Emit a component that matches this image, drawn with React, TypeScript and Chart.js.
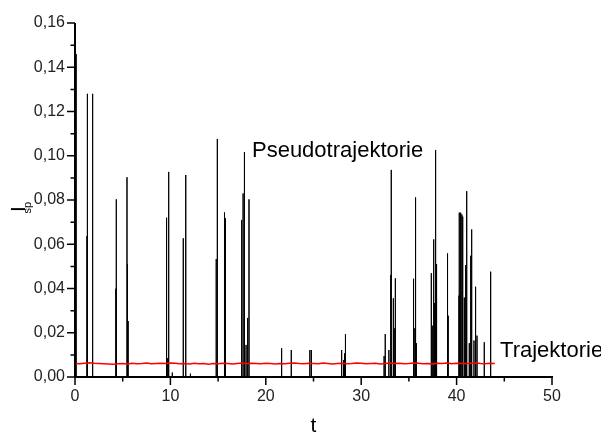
import React, { useEffect, useRef } from 'react';
import { Chart, registerables } from 'chart.js';

Chart.register(...registerables);

// Pseudotrajektorie: spike times (t) and peak heights (I_sp)
const spikeT = [
  0.12, 1.25, 1.30, 1.82, 1.87, 4.28, 4.33, 5.45, 5.50, 5.57,
  9.60, 9.72, 9.78, 9.85, 10.20, 11.35, 11.58, 11.63, 12.10, 14.78,
  14.82, 14.92, 15.67, 15.74, 15.80, 17.47, 17.62, 17.72, 17.79, 17.93,
  18.10, 18.24, 21.66, 22.67, 24.62, 24.78, 27.95, 28.15, 28.25, 28.35,
  32.40, 32.52, 32.90, 33.10, 33.15, 33.37, 33.52, 33.58, 35.44, 35.52,
  35.62, 35.70, 35.78, 37.35, 37.45, 37.60, 37.70, 37.80, 37.90, 39.05,
  39.12, 40.25, 40.28, 40.37, 40.46, 40.55, 40.64, 40.81, 40.95, 41.06,
  41.33, 41.48, 41.58, 41.82, 41.93, 42.03, 42.14, 42.90, 43.57,
];
const spikeH = [
  0.146, 0.0637, 0.128, 0.0637, 0.128, 0.0399, 0.0803, 0.0903, 0.0509, 0.0253,
  0.072, 0.0085, 0.0487, 0.0927, 0.002, 0.0627, 0.0913, 0.0456, 0.0015, 0.002,
  0.0533, 0.1076, 0.0744, 0.0717, 0.070, 0.071, 0.083, 0.1017, 0.0503, 0.0145,
  0.0267, 0.0803, 0.013, 0.0122, 0.0122, 0.0122, 0.0122, 0.0077, 0.0107, 0.0194,
  0.0095, 0.0194, 0.0122, 0.0461, 0.0936, 0.0356, 0.022, 0.0446, 0.0444, 0.0405,
  0.022, 0.0812, 0.0153, 0.0469, 0.0232, 0.0622, 0.0334, 0.1026, 0.051, 0.0559,
  0.0277, 0.0368, 0.0743, 0.0743, 0.0743, 0.0735, 0.0725, 0.0359, 0.0506, 0.084,
  0.0153, 0.0548, 0.0667, 0.0165, 0.0408, 0.0362, 0.0187, 0.0157, 0.0476,
];

// Trajektorie: sampled every 0.5 time units from t = 0 to t = 44
const trajStep = 0.5;
const trajY = [
  0.0061, 0.0060, 0.0062, 0.0064, 0.0062, 0.0061, 0.0060, 0.0059, 0.0058, 0.0060,
  0.0061, 0.0059, 0.0062, 0.0060, 0.0061, 0.0063, 0.0060, 0.0061, 0.0062, 0.0061,
  0.0063, 0.0062, 0.0060, 0.0061, 0.0059, 0.0062, 0.0060, 0.0061, 0.0058, 0.0061,
  0.0060, 0.0062, 0.0061, 0.0059, 0.0061, 0.0063, 0.0060, 0.0062, 0.0061, 0.0060,
  0.0062, 0.0061, 0.0059, 0.0061, 0.0060, 0.0062, 0.0063, 0.0061, 0.0060, 0.0062,
  0.0061, 0.0060, 0.0063, 0.0061, 0.0059, 0.0061, 0.0062, 0.0060, 0.0061, 0.0063,
  0.0062, 0.0060, 0.0061, 0.0062, 0.0059, 0.0061, 0.0063, 0.0061, 0.0062, 0.0060,
  0.0061, 0.0063, 0.0062, 0.0060, 0.0061, 0.0059, 0.0062, 0.0061, 0.0063, 0.0060,
  0.0062, 0.0061, 0.0060, 0.0062, 0.0064, 0.0061, 0.0060, 0.0062, 0.0061,
];

const xMajorTicks = [0, 10, 20, 30, 40, 50];
const xMinorTicks = [5, 15, 25, 35, 45];
const yMajorTicks = [0, 0.02, 0.04, 0.06, 0.08, 0.1, 0.12, 0.14, 0.16];
const yMinorTicks = [0.01, 0.03, 0.05, 0.07, 0.09, 0.11, 0.13, 0.15];

const FONT = '"Liberation Sans", Arial, sans-serif';

const axesPlugin = {
  id: 'originAxes',
  afterDraw(chart: any) {
    const ctx = chart.ctx as CanvasRenderingContext2D;
    const xs = chart.scales.x;
    const ys = chart.scales.y;
    const x0 = xs.getPixelForValue(0);
    const y0 = ys.getPixelForValue(0);
    ctx.save();
    ctx.strokeStyle = '#000';
    ctx.lineWidth = 2;
    ctx.beginPath();
    ctx.moveTo(x0, y0 + 1);
    ctx.lineTo(x0, ys.getPixelForValue(0.16));
    ctx.moveTo(x0 - 1, y0);
    ctx.lineTo(xs.getPixelForValue(50) + 1, y0);
    ctx.stroke();
    // ticks
    ctx.lineWidth = 1.5;
    ctx.beginPath();
    yMajorTicks.forEach((v) => {
      const y = ys.getPixelForValue(v);
      ctx.moveTo(x0, y);
      ctx.lineTo(x0 - 8, y);
    });
    yMinorTicks.forEach((v) => {
      const y = ys.getPixelForValue(v);
      ctx.moveTo(x0, y);
      ctx.lineTo(x0 - 4.5, y);
    });
    xMajorTicks.forEach((v) => {
      const x = xs.getPixelForValue(v);
      ctx.moveTo(x, y0);
      ctx.lineTo(x, y0 + 8);
    });
    xMinorTicks.forEach((v) => {
      const x = xs.getPixelForValue(v);
      ctx.moveTo(x, y0);
      ctx.lineTo(x, y0 + 4.5);
    });
    ctx.stroke();

    // annotations
    ctx.fillStyle = '#000';
    ctx.textBaseline = 'alphabetic';
    ctx.textAlign = 'left';
    ctx.font = `22px ${FONT}`;
    ctx.fillText('Pseudotrajektorie', xs.getPixelForValue(18.55), ys.getPixelForValue(0.0994));
    ctx.fillText('Trajektorie', xs.getPixelForValue(44.55), ys.getPixelForValue(0.009));

    // x axis title
    ctx.textAlign = 'center';
    ctx.font = `21px ${FONT}`;
    ctx.fillText('t', (xs.left + xs.right) / 2, 432);

    // y axis title I_sp (rotated)
    ctx.textAlign = 'left';
    ctx.save();
    ctx.translate(25, 212);
    ctx.rotate(-Math.PI / 2);
    ctx.font = `21px ${FONT}`;
    ctx.fillText('I', 0, 0);
    ctx.restore();
    ctx.save();
    ctx.translate(30.5, 213.5);
    ctx.rotate(-Math.PI / 2);
    ctx.font = `11px ${FONT}`;
    ctx.fillText('sp', 0, 0);
    ctx.restore();
    ctx.restore();
  },
};

export default function App() {
  const ref = useRef<HTMLCanvasElement>(null);
  useEffect(() => {
    document.body.style.margin = '0';
    const canvas = ref.current!;
    const spikeData: { x: number; y: number }[] = [{ x: 0, y: 0 }];
    spikeT.forEach((t, i) => {
      spikeData.push({ x: t, y: 0 }, { x: t, y: spikeH[i] }, { x: t, y: 0 });
    });
    spikeData.push({ x: 44.2, y: 0 });
    const trajData = trajY.map((y, i) => ({ x: i * trajStep, y }));

    const chart = new Chart(canvas, {
      type: 'line',
      data: {
        datasets: [
          {
            label: 'Trajektorie',
            data: trajData,
            borderColor: '#ff0000',
            borderWidth: 1.5,
            pointRadius: 0,
            tension: 0,
          },
          {
            label: 'Pseudotrajektorie',
            data: spikeData,
            borderColor: '#000000',
            borderWidth: 1,
            pointRadius: 0,
            tension: 0,
          },
        ],
      },
      options: {
        responsive: false,
        animation: false,
        events: [],
        layout: { padding: { left: 0, top: 23, right: 49, bottom: 0 } },
        plugins: { legend: { display: false }, tooltip: { enabled: false } },
        scales: {
          x: {
            type: 'linear',
            min: 0,
            max: 50,
            grid: { display: false, drawTicks: false },
            border: { display: false },
            afterBuildTicks: (s: any) => {
              s.ticks = xMajorTicks.map((v) => ({ value: v }));
            },
            afterFit: (s: any) => {
              s.height = 56;
            },
            ticks: {
              padding: 10,
              maxRotation: 0,
              color: '#222',
              font: { family: FONT, size: 16 },
              callback: (v: any) => String(v),
            },
          },
          y: {
            type: 'linear',
            min: 0,
            max: 0.16,
            grid: { display: false, drawTicks: false },
            border: { display: false },
            afterBuildTicks: (s: any) => {
              s.ticks = yMajorTicks.map((v) => ({ value: v }));
            },
            afterFit: (s: any) => {
              s.width = 75;
            },
            ticks: {
              padding: 10,
              color: '#222',
              font: { family: FONT, size: 16 },
              callback: (v: any) => Number(v).toFixed(2).replace('.', ','),
            },
          },
        },
      },
      plugins: [axesPlugin],
    });
    return () => chart.destroy();
  }, []);
  return (
    <div style={{ width: 601, height: 433, background: '#fff' }}>
      <canvas ref={ref} width={601} height={433} style={{ display: 'block' }} />
    </div>
  );
}
